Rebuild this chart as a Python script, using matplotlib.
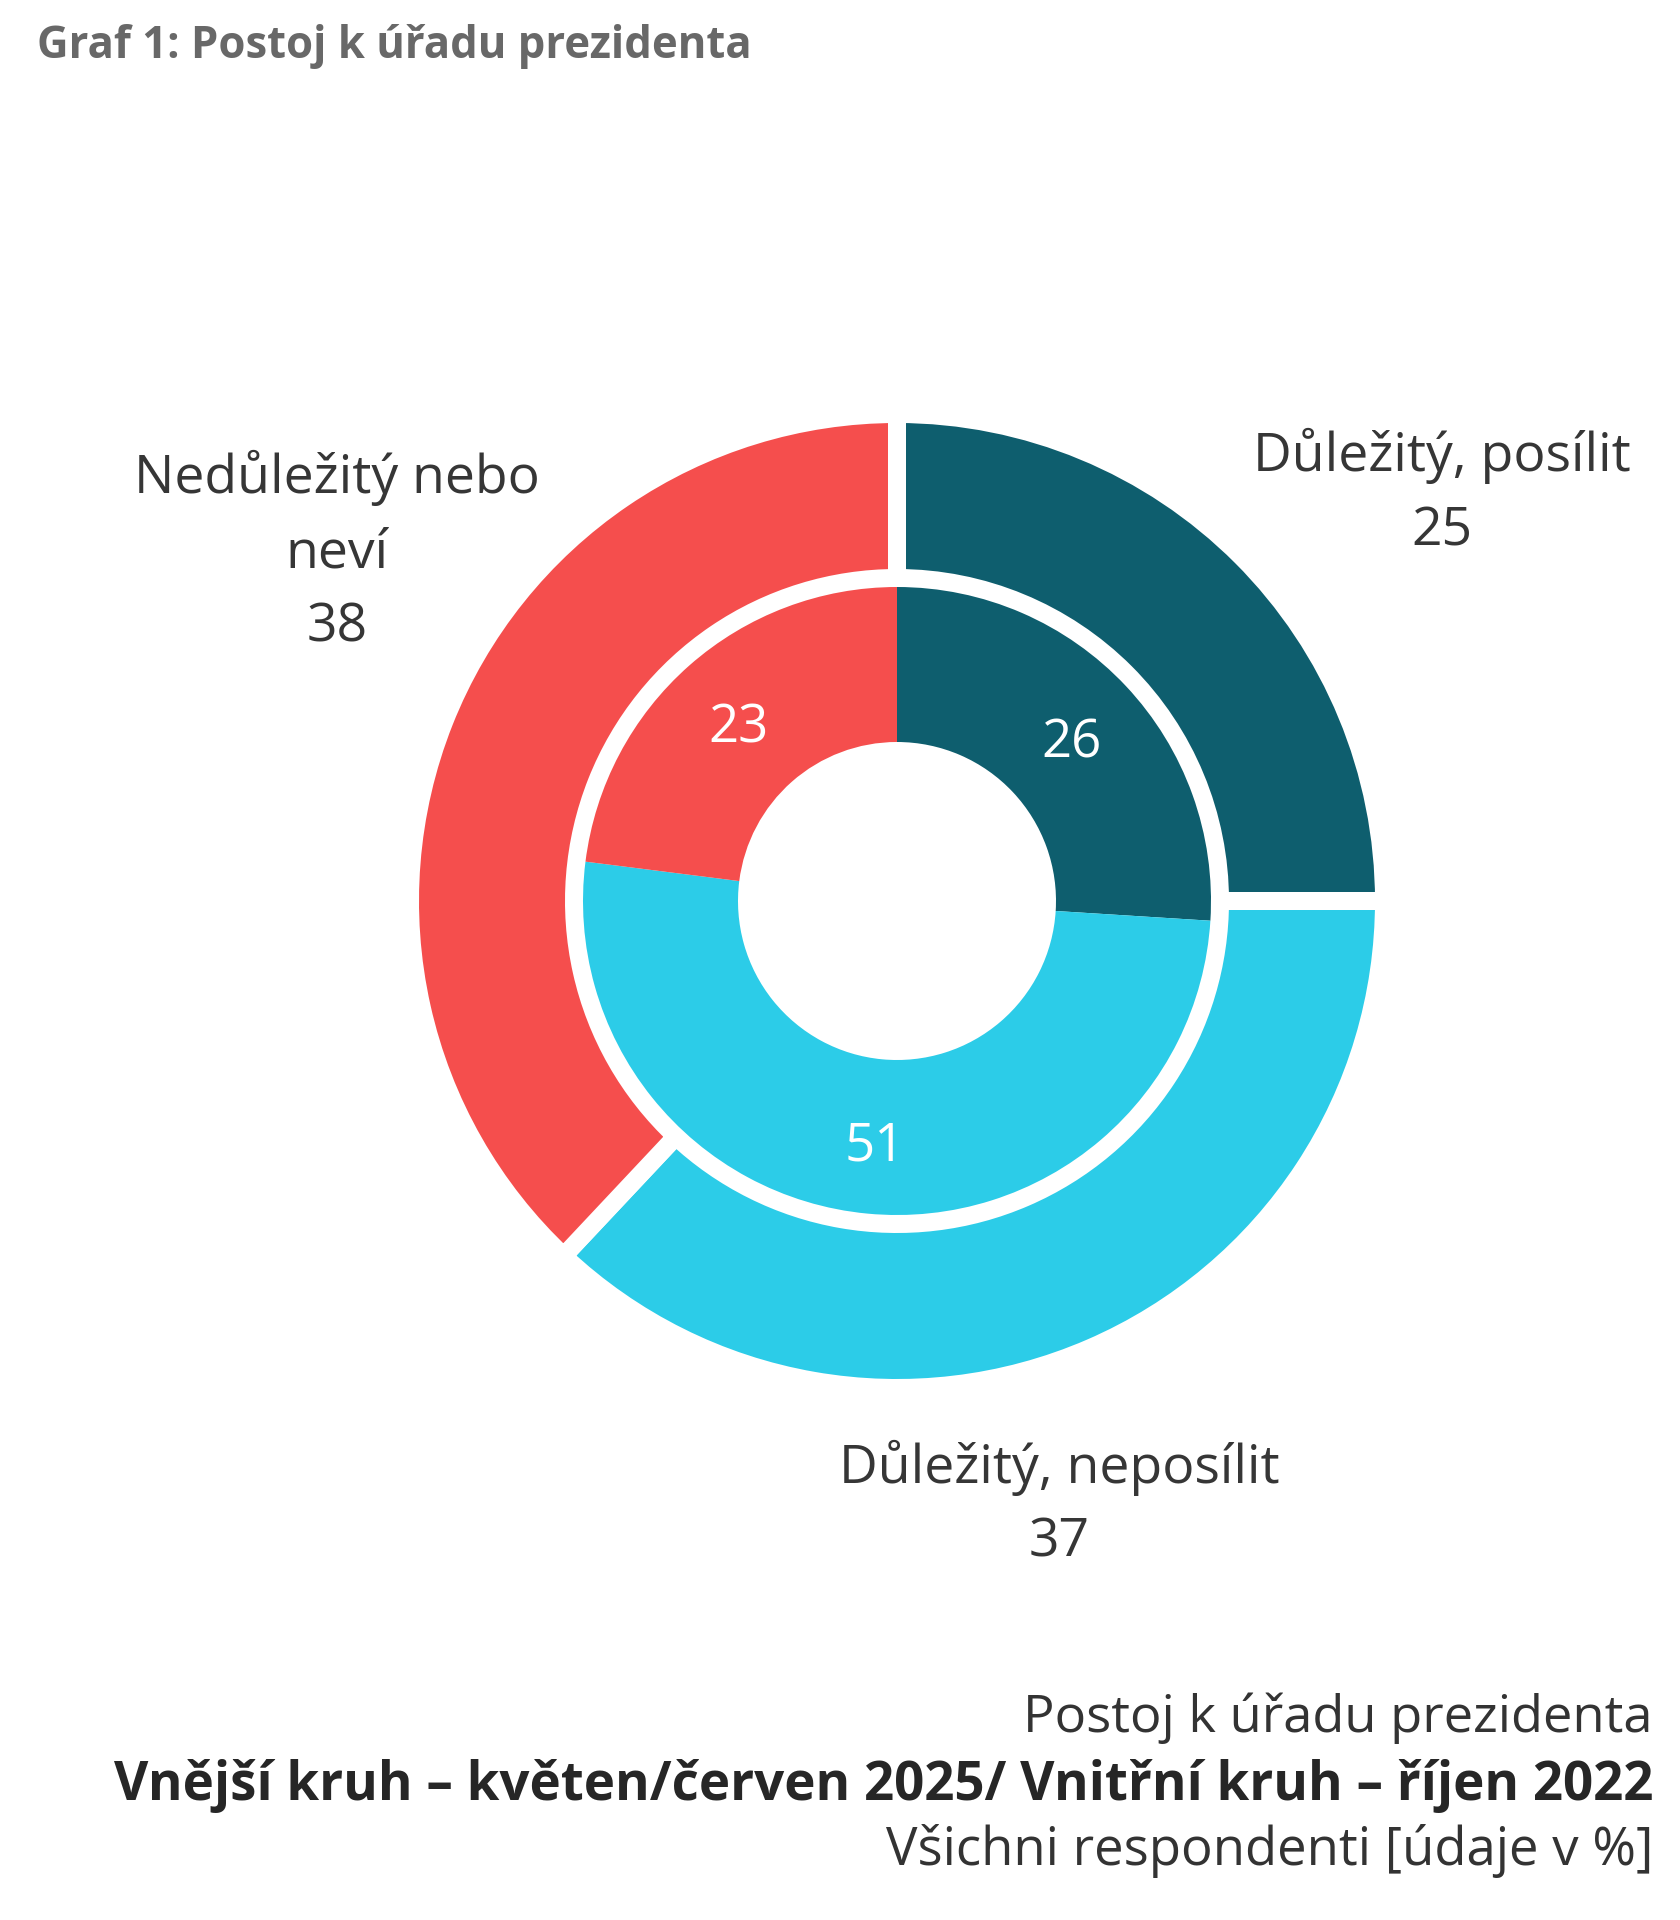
import matplotlib
matplotlib.use("Agg")
import matplotlib.pyplot as plt

plt.rcParams['font.family'] = ['Open Sans', 'DejaVu Sans']

# ---- data ----
categories = ["Důležitý, posílit", "Důležitý, neposílit", "Nedůležitý nebo neví"]
outer_values = [25, 37, 38]   # květen/červen 2025
inner_values = [26, 51, 23]   # říjen 2022
colors = ["#0E5E6E", "#2CCCE8", "#F54E4D"]

title = "Graf 1: Postoj k úřadu prezidenta"
footer_lines = ["Postoj k úřadu prezidenta",
                "Vnější kruh – květen/červen 2025/ Vnitřní kruh – říjen 2022",
                "Všichni respondenti [údaje v %]"]

W, H = 1681, 1920
fig = plt.figure(figsize=(W / 100, H / 100), dpi=100)
ax = fig.add_axes([0, 0, 1, 1])

def Y(y):  # pixel-from-top -> data
    return H - y

cx, cy = 897, Y(901)
gap_px = 18
lw_pt = gap_px * 72 / 100

# outer ring (with white gaps)
R_out_vis, R_in_vis = 478, 332
R = R_out_vis + gap_px / 2
w = R - (R_in_vis - gap_px / 2)
ax.pie(outer_values, colors=colors, startangle=90, counterclock=False,
       radius=R, center=(cx, cy),
       wedgeprops=dict(width=w, edgecolor="white", linewidth=lw_pt))

# inner ring (no gaps)
r_out, r_in = 314, 159
_, inner_texts = ax.pie(inner_values, colors=colors, startangle=90, counterclock=False,
       radius=r_out, center=(cx, cy),
       labels=[str(v) for v in inner_values],
       labeldistance=((r_out + r_in) / 2 + 3) / r_out,
       textprops=dict(color="white", fontsize=38, ha="center", va="center"),
       wedgeprops=dict(width=r_out - r_in, linewidth=0))
for t in inner_texts:
    x, y = t.get_position()
    t.set_position((x, y - 7))

ax.set_xlim(0, W)
ax.set_ylim(0, H)
ax.set_aspect("equal")
ax.axis("off")

fig.canvas.draw()
renderer = fig.canvas.get_renderer()

def fit(t, target):
    t.set_fontsize(t.get_fontsize() * target / t.get_window_extent(renderer).width)

lab_col = "#363636"
lab_fs = 38.5
# outer labels
ax.text(337, Y(493), "Nedůležitý nebo", ha="center", va="baseline", fontsize=lab_fs, color=lab_col)
ax.text(337, Y(567), "neví", ha="center", va="baseline", fontsize=lab_fs, color=lab_col)
ax.text(337, Y(642), str(outer_values[2]), ha="center", va="baseline", fontsize=lab_fs, color=lab_col)

ax.text(1442, Y(471), categories[0], ha="center", va="baseline", fontsize=lab_fs, color=lab_col)
ax.text(1442, Y(546), str(outer_values[0]), ha="center", va="baseline", fontsize=lab_fs, color=lab_col)

ax.text(1059, Y(1483), categories[1], ha="center", va="baseline", fontsize=lab_fs, color=lab_col)
ax.text(1059, Y(1557), str(outer_values[1]), ha="center", va="baseline", fontsize=lab_fs, color=lab_col)

# title
tt = ax.text(37, Y(58), title, ha="left", va="baseline", fontsize=30,
             fontweight="bold", color="#686868")
fit(tt, 715)

# footer
f1 = ax.text(1653, Y(1732), footer_lines[0], ha="right", va="baseline", fontsize=36, color="#333333")
f2 = ax.text(1653, Y(1800), footer_lines[1], ha="right", va="baseline", fontsize=36,
             fontweight="bold", color="#262626")
f3 = ax.text(1653, Y(1865), footer_lines[2], ha="right", va="baseline", fontsize=36, color="#333333")
fit(f1, 629)
fit(f2, 1540)
fit(f3, 769)

fig.savefig("out.png", dpi=100, facecolor="white")
